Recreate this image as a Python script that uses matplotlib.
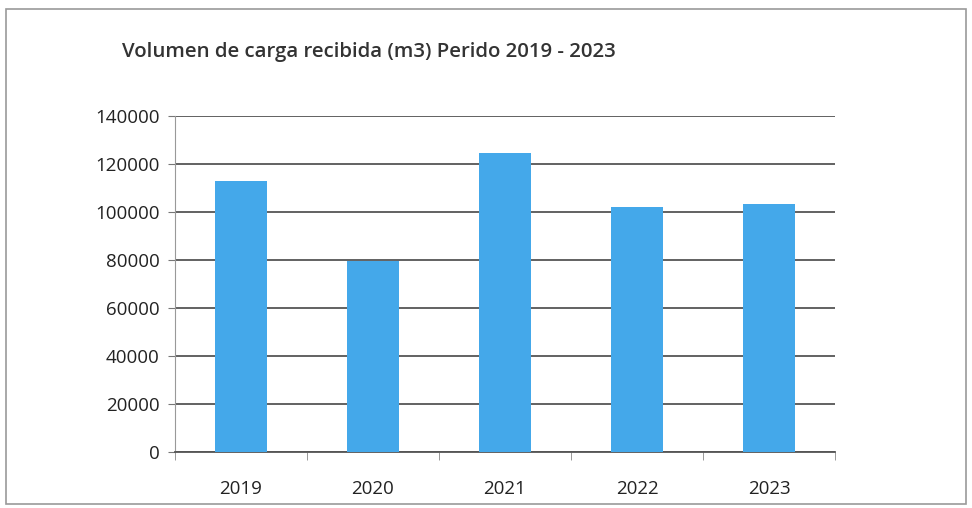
import matplotlib
matplotlib.use("Agg")
import matplotlib.pyplot as plt
from matplotlib.patches import Rectangle

years = ["2019", "2020", "2021", "2022", "2023"]
volumes = [113000, 79500, 124500, 102000, 103500]
yticks = [0, 20000, 40000, 60000, 80000, 100000, 120000, 140000]

plt.rcParams['font.family'] = ['Open Sans', 'DejaVu Sans']

fig = plt.figure(figsize=(9.72, 5.08), dpi=100)
fig.patch.set_facecolor('white')
fig.patches.append(Rectangle((0.006, 0.008), 0.988, 0.975, transform=fig.transFigure,
                             fill=False, edgecolor='#9a9a9a', linewidth=1.2))
ax = fig.add_axes([0.18, 0.11, 0.679, 0.662])

x = list(range(len(years)))
ax.bar(x, volumes, width=0.4, color='#44A8EA', zorder=3)
ax.set_xlim(-0.5, len(years) - 0.5)
ax.set_ylim(0, 140000)
ax.set_yticks(yticks)
ax.set_yticklabels([str(v) for v in yticks], fontsize=13.5, color='#222222')
ax.set_xticks(x)
ax.set_xticklabels(years, fontsize=13.5, color='#222222')
ax.tick_params(axis='x', length=0, pad=20)
ax.set_xticks([i + 0.5 for i in range(-1, len(years))], minor=True)
ax.tick_params(axis='x', which='minor', length=6, color='#888888', direction='out')
ax.tick_params(axis='y', length=5, color='#777777', direction='out', pad=6)
ax.grid(axis='y', color='#555555', linewidth=1.3, zorder=1)
for s in ['top', 'right']:
    ax.spines[s].set_visible(False)
ax.spines['left'].set_color('#999999')
ax.spines['bottom'].set_color('#555555')
ax.spines['bottom'].set_linewidth(1.3)

fig.text(0.126, 0.897, "Volumen de carga recibida (m3) Perido 2019 - 2023",
         fontsize=14.7, fontweight='semibold', color='#333333', va='center')

fig.savefig("out.png", dpi=100)
